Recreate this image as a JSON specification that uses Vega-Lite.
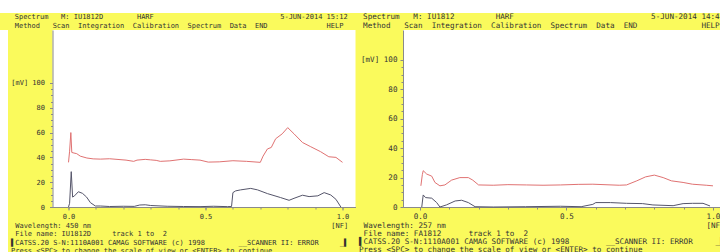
{
  "$schema": "https://vega.github.io/schema/vega-lite/v6.json",
  "background": "#fafa5c",
  "padding": 0,
  "spacing": 0,
  "config": {
    "view": {"fill": "white", "stroke": null},
    "font": "DejaVu Sans Mono",
    "axis": {"labelFont": "DejaVu Sans Mono", "titleFont": "DejaVu Sans Mono", "labelColor": "#333333", "titleColor": "#333333", "domainColor": "#8a8a8a", "tickColor": "#8a8a8a", "grid": false, "titleFontWeight": "normal", "labelOverlap": false, "labelFlush": false}
  },
  "datasets": {
    "blank": [{"part": "screen edge"}],
    "left": [
      {"track": "track 1", "x": 0, "y": 36}, {"track": "track 1", "x": 0.004, "y": 45}, {"track": "track 1", "x": 0.0085, "y": 60}, {"track": "track 1", "x": 0.012, "y": 44}, {"track": "track 1", "x": 0.02, "y": 43.5}, {"track": "track 1", "x": 0.03, "y": 43}, {"track": "track 1", "x": 0.043, "y": 41}, {"track": "track 1", "x": 0.067, "y": 39.5}, {"track": "track 1", "x": 0.09, "y": 38.8}, {"track": "track 1", "x": 0.116, "y": 38.6}, {"track": "track 1", "x": 0.15, "y": 38.9}, {"track": "track 1", "x": 0.177, "y": 38.4}, {"track": "track 1", "x": 0.21, "y": 37.8}, {"track": "track 1", "x": 0.238, "y": 36.8}, {"track": "track 1", "x": 0.25, "y": 37.8}, {"track": "track 1", "x": 0.28, "y": 38.4}, {"track": "track 1", "x": 0.3, "y": 38}, {"track": "track 1", "x": 0.32, "y": 37.6}, {"track": "track 1", "x": 0.335, "y": 36.8}, {"track": "track 1", "x": 0.37, "y": 37.2}, {"track": "track 1", "x": 0.42, "y": 38.6}, {"track": "track 1", "x": 0.45, "y": 38.2}, {"track": "track 1", "x": 0.48, "y": 37.8}, {"track": "track 1", "x": 0.51, "y": 36.2}, {"track": "track 1", "x": 0.55, "y": 36.4}, {"track": "track 1", "x": 0.6, "y": 37.3}, {"track": "track 1", "x": 0.65, "y": 36.8}, {"track": "track 1", "x": 0.7, "y": 36}, {"track": "track 1", "x": 0.71, "y": 41}, {"track": "track 1", "x": 0.726, "y": 46.8}, {"track": "track 1", "x": 0.74, "y": 48}, {"track": "track 1", "x": 0.756, "y": 55}, {"track": "track 1", "x": 0.78, "y": 59}, {"track": "track 1", "x": 0.8, "y": 64}, {"track": "track 1", "x": 0.823, "y": 59}, {"track": "track 1", "x": 0.854, "y": 52}, {"track": "track 1", "x": 0.884, "y": 48.6}, {"track": "track 1", "x": 0.92, "y": 44.6}, {"track": "track 1", "x": 0.95, "y": 40.5}, {"track": "track 1", "x": 0.976, "y": 40}, {"track": "track 1", "x": 1.0, "y": 36},
      {"track": "track 2", "x": 0, "y": 0}, {"track": "track 2", "x": 0.004, "y": 3}, {"track": "track 2", "x": 0.01, "y": 28.5}, {"track": "track 2", "x": 0.015, "y": 8}, {"track": "track 2", "x": 0.022, "y": 9}, {"track": "track 2", "x": 0.036, "y": 12.3}, {"track": "track 2", "x": 0.051, "y": 11}, {"track": "track 2", "x": 0.066, "y": 8}, {"track": "track 2", "x": 0.08, "y": 3.5}, {"track": "track 2", "x": 0.098, "y": 0.8}, {"track": "track 2", "x": 0.116, "y": 0.8}, {"track": "track 2", "x": 0.15, "y": 0.4}, {"track": "track 2", "x": 0.2, "y": 0.6}, {"track": "track 2", "x": 0.24, "y": 0.5}, {"track": "track 2", "x": 0.26, "y": 1.6}, {"track": "track 2", "x": 0.28, "y": 1.8}, {"track": "track 2", "x": 0.3, "y": 1.2}, {"track": "track 2", "x": 0.36, "y": 0.6}, {"track": "track 2", "x": 0.42, "y": 0.4}, {"track": "track 2", "x": 0.48, "y": 0.3}, {"track": "track 2", "x": 0.53, "y": 0.6}, {"track": "track 2", "x": 0.58, "y": 0.3}, {"track": "track 2", "x": 0.595, "y": 0.4}, {"track": "track 2", "x": 0.6, "y": 11.6}, {"track": "track 2", "x": 0.61, "y": 13}, {"track": "track 2", "x": 0.628, "y": 13.8}, {"track": "track 2", "x": 0.665, "y": 15}, {"track": "track 2", "x": 0.69, "y": 13.8}, {"track": "track 2", "x": 0.726, "y": 10.8}, {"track": "track 2", "x": 0.774, "y": 7.6}, {"track": "track 2", "x": 0.805, "y": 5.4}, {"track": "track 2", "x": 0.823, "y": 7}, {"track": "track 2", "x": 0.854, "y": 9.5}, {"track": "track 2", "x": 0.878, "y": 8.4}, {"track": "track 2", "x": 0.91, "y": 9}, {"track": "track 2", "x": 0.933, "y": 11.6}, {"track": "track 2", "x": 0.957, "y": 9.7}, {"track": "track 2", "x": 0.976, "y": 6.2}, {"track": "track 2", "x": 0.994, "y": 0}
    ],
    "right": [
      {"track": "track 1", "x": 0.003, "y": 14.4}, {"track": "track 1", "x": 0.008, "y": 22}, {"track": "track 1", "x": 0.011, "y": 24.7}, {"track": "track 1", "x": 0.023, "y": 22.4}, {"track": "track 1", "x": 0.04, "y": 21}, {"track": "track 1", "x": 0.051, "y": 16.7}, {"track": "track 1", "x": 0.068, "y": 14.4}, {"track": "track 1", "x": 0.085, "y": 15}, {"track": "track 1", "x": 0.108, "y": 18.3}, {"track": "track 1", "x": 0.136, "y": 20}, {"track": "track 1", "x": 0.165, "y": 20}, {"track": "track 1", "x": 0.18, "y": 18.3}, {"track": "track 1", "x": 0.2, "y": 15}, {"track": "track 1", "x": 0.25, "y": 14.8}, {"track": "track 1", "x": 0.3, "y": 15.2}, {"track": "track 1", "x": 0.364, "y": 15}, {"track": "track 1", "x": 0.42, "y": 14.8}, {"track": "track 1", "x": 0.48, "y": 15}, {"track": "track 1", "x": 0.54, "y": 15.4}, {"track": "track 1", "x": 0.59, "y": 15.5}, {"track": "track 1", "x": 0.68, "y": 14.8}, {"track": "track 1", "x": 0.705, "y": 15}, {"track": "track 1", "x": 0.74, "y": 17.8}, {"track": "track 1", "x": 0.77, "y": 20.5}, {"track": "track 1", "x": 0.8, "y": 21.7}, {"track": "track 1", "x": 0.83, "y": 20}, {"track": "track 1", "x": 0.858, "y": 17.8}, {"track": "track 1", "x": 0.898, "y": 16.7}, {"track": "track 1", "x": 0.93, "y": 15.5}, {"track": "track 1", "x": 0.977, "y": 14.8}, {"track": "track 1", "x": 1.0, "y": 14.4},
      {"track": "track 2", "x": 0.006, "y": 0}, {"track": "track 2", "x": 0.011, "y": 8.2}, {"track": "track 2", "x": 0.019, "y": 6.4}, {"track": "track 2", "x": 0.04, "y": 6}, {"track": "track 2", "x": 0.057, "y": 3}, {"track": "track 2", "x": 0.068, "y": 0}, {"track": "track 2", "x": 0.09, "y": 1.4}, {"track": "track 2", "x": 0.12, "y": 4.1}, {"track": "track 2", "x": 0.142, "y": 4.6}, {"track": "track 2", "x": 0.165, "y": 3}, {"track": "track 2", "x": 0.188, "y": 0.2}, {"track": "track 2", "x": 0.25, "y": 0}, {"track": "track 2", "x": 0.36, "y": 0.2}, {"track": "track 2", "x": 0.48, "y": 0.5}, {"track": "track 2", "x": 0.55, "y": 0.2}, {"track": "track 2", "x": 0.59, "y": 1.8}, {"track": "track 2", "x": 0.6, "y": 3}, {"track": "track 2", "x": 0.65, "y": 3}, {"track": "track 2", "x": 0.705, "y": 2.5}, {"track": "track 2", "x": 0.76, "y": 2.3}, {"track": "track 2", "x": 0.795, "y": 1.4}, {"track": "track 2", "x": 0.864, "y": 0.9}, {"track": "track 2", "x": 0.898, "y": 2.3}, {"track": "track 2", "x": 0.93, "y": 2.5}, {"track": "track 2", "x": 0.966, "y": 2.5}, {"track": "track 2", "x": 0.99, "y": 0.7}
    ]
  },
  "vconcat": [
    {"width": 720, "height": 13, "data": {"name": "blank"}, "mark": {"type": "rect", "color": "white"}, "encoding": {}},
    {
      "spacing": 2.5,
      "hconcat": [
        {"width": 8, "height": 239, "data": {"name": "blank"}, "mark": {"type": "rect", "color": "white"}, "encoding": {}},
        {
          "width": 303,
          "height": 177,
          "data": {"name": "left"},
          "title": {
            "text": "\u200b\u00a0Spectrum\u00a0\u00a0\u00a0M:\u00a0IU1812D\u00a0\u00a0\u00a0\u00a0\u00a0\u00a0\u00a0\u00a0HARF\u00a0\u00a0\u00a0\u00a0\u00a0\u00a0\u00a0\u00a0\u00a0\u00a0\u00a0\u00a0\u00a0\u00a0\u00a0\u00a0\u00a0\u00a0\u00a0\u00a0\u00a0\u00a0\u00a0\u00a0\u00a0\u00a0\u00a0\u00a0\u00a0\u00a05-JUN-2014\u00a015:12",
            "subtitle": "\u200b\u00a0Method\u00a0\u00a0\u00a0Scan\u00a0\u00a0Integration\u00a0\u00a0Calibration\u00a0\u00a0Spectrum\u00a0\u00a0Data\u00a0\u00a0END\u00a0\u00a0\u00a0\u00a0\u00a0\u00a0\u00a0\u00a0\u00a0\u00a0\u00a0\u00a0\u00a0\u00a0HELP",
            "anchor": "start", "frame": "group", "dx": -42, "offset": 1.5,
            "font": "DejaVu Sans Mono", "fontSize": 7, "fontWeight": "normal", "color": "#333333",
            "subtitleFont": "DejaVu Sans Mono", "subtitleFontSize": 7, "subtitleColor": "#333333", "subtitlePadding": 1.5
          },
          "layer": [
            {
              "transform": [{"filter": "datum.track == 'track 1'"}],
              "mark": {"type": "line", "color": "#e07272", "strokeWidth": 1},
              "encoding": {
                "x": {"field": "x", "type": "quantitative", "scale": {"domain": [-0.0584, 1.0474], "nice": false, "zero": false},
                  "axis": {"orient": "bottom", "values": [0, 0.5, 1], "format": ".1f", "labelFontSize": 7, "labelPadding": 2, "tickSize": 3,
                    "title": [
                      "\u200b\u00a0Wavelength:\u00a0450\u00a0nm\u00a0\u00a0\u00a0\u00a0\u00a0\u00a0\u00a0\u00a0\u00a0\u00a0\u00a0\u00a0\u00a0\u00a0\u00a0\u00a0\u00a0\u00a0\u00a0\u00a0\u00a0\u00a0\u00a0\u00a0\u00a0\u00a0\u00a0\u00a0\u00a0\u00a0\u00a0\u00a0\u00a0\u00a0\u00a0\u00a0\u00a0\u00a0\u00a0\u00a0\u00a0\u00a0\u00a0\u00a0\u00a0\u00a0\u00a0\u00a0\u00a0\u00a0\u00a0\u00a0\u00a0\u00a0\u00a0\u00a0\u00a0[NF]",
                      "\u200b\u00a0File\u00a0name:\u00a0IU1812D\u00a0\u00a0\u00a0\u00a0\u00a0track\u00a01\u00a0to\u00a0\u00a02",
                      "\u258cCATSS.20\u00a0S-N:1110A001\u00a0CAMAG\u00a0SOFTWARE\u00a0(c)\u00a01998\u00a0\u00a0\u00a0\u00a0\u00a0\u00a0\u00a0\u00a0__SCANNER\u00a0II:\u00a0ERROR\u00a0\u00a0\u00a0\u00a0\u00a0_\u258c",
                      "Press\u00a0<SPC>\u00a0to\u00a0change\u00a0the\u00a0scale\u00a0of\u00a0view\u00a0or\u00a0<ENTER>\u00a0to\u00a0continue"
                    ],
                    "titleFontSize": 7, "titleAlign": "left", "titleAnchor": "start", "titleX": -42, "titleY": 14.5, "titleBaseline": "top", "titleLineHeight": 8.3}},
                "y": {"field": "y", "type": "quantitative", "scale": {"domain": [0, 142.7], "nice": false, "zero": false},
                  "axis": {"orient": "left", "values": [0, 20, 40, 60, 80, 100], "labelExpr": "datum.value == 100 ? '[mV]\u00a0100' : datum.label", "labelFontSize": 7, "tickSize": 3, "labelPadding": 5, "title": null}}
              }
            },
            {
              "transform": [{"filter": "datum.track == 'track 2'"}],
              "mark": {"type": "line", "color": "#55556a", "strokeWidth": 1},
              "encoding": {
                "x": {"field": "x", "type": "quantitative",
                  "axis": {"orient": "bottom", "values": [0, 0.1, 0.2, 0.3, 0.4, 0.5, 0.6, 0.7, 0.8, 0.9, 1.0], "labels": false, "domain": false, "tickSize": 2, "title": null}},
                "y": {"field": "y", "type": "quantitative",
                  "axis": {"orient": "left", "values": [0, 5, 10, 15, 20, 25, 30, 35, 40, 45, 50, 55, 60, 65, 70, 75, 80, 85, 90, 95, 100], "labels": false, "domain": false, "tickSize": 2, "title": null}}
              }
            }
          ],
          "resolve": {"axis": {"x": "independent", "y": "independent"}}
        },
        {
          "width": 317,
          "height": 177,
          "data": {"name": "right"},
          "title": {
            "text": "\u200b\u00a0Spectrum\u00a0\u00a0\u00a0M:\u00a0IU1812\u00a0\u00a0\u00a0\u00a0\u00a0\u00a0\u00a0\u00a0\u00a0HARF\u00a0\u00a0\u00a0\u00a0\u00a0\u00a0\u00a0\u00a0\u00a0\u00a0\u00a0\u00a0\u00a0\u00a0\u00a0\u00a0\u00a0\u00a0\u00a0\u00a0\u00a0\u00a0\u00a0\u00a0\u00a0\u00a0\u00a0\u00a0\u00a0\u00a05-JUN-2014\u00a014:48",
            "subtitle": "\u200b\u00a0Method\u00a0\u00a0\u00a0Scan\u00a0\u00a0Integration\u00a0\u00a0Calibration\u00a0\u00a0Spectrum\u00a0\u00a0Data\u00a0\u00a0END\u00a0\u00a0\u00a0\u00a0\u00a0\u00a0\u00a0\u00a0\u00a0\u00a0\u00a0\u00a0\u00a0\u00a0HELP",
            "anchor": "start", "frame": "group", "dx": -44.5, "offset": 0.8,
            "font": "DejaVu Sans Mono", "fontSize": 7.6, "fontWeight": "normal", "color": "#333333",
            "subtitleFont": "DejaVu Sans Mono", "subtitleFontSize": 7.6, "subtitleColor": "#333333", "subtitlePadding": 1
          },
          "layer": [
            {
              "transform": [{"filter": "datum.track == 'track 1'"}],
              "mark": {"type": "line", "color": "#e07272", "strokeWidth": 1},
              "encoding": {
                "x": {"field": "x", "type": "quantitative", "scale": {"domain": [-0.058, 1.024], "nice": false, "zero": false},
                  "axis": {"orient": "bottom", "values": [0, 0.5, 1], "format": ".1f", "labelFontSize": 7.6, "labelPadding": 2, "tickSize": 3,
                    "title": [
                      "\u200b\u00a0Wavelength:\u00a0257\u00a0nm\u00a0\u00a0\u00a0\u00a0\u00a0\u00a0\u00a0\u00a0\u00a0\u00a0\u00a0\u00a0\u00a0\u00a0\u00a0\u00a0\u00a0\u00a0\u00a0\u00a0\u00a0\u00a0\u00a0\u00a0\u00a0\u00a0\u00a0\u00a0\u00a0\u00a0\u00a0\u00a0\u00a0\u00a0\u00a0\u00a0\u00a0\u00a0\u00a0\u00a0\u00a0\u00a0\u00a0\u00a0\u00a0\u00a0\u00a0\u00a0\u00a0\u00a0\u00a0\u00a0\u00a0\u00a0\u00a0\u00a0\u00a0[NF]",
                      "\u200b\u00a0File\u00a0name:\u00a0FA1812\u00a0\u00a0\u00a0\u00a0\u00a0\u00a0track\u00a01\u00a0to\u00a0\u00a02",
                      "\u258cCATSS.20\u00a0S-N:1110A001\u00a0CAMAG\u00a0SOFTWARE\u00a0(c)\u00a01998\u00a0\u00a0\u00a0\u00a0\u00a0\u00a0\u00a0\u00a0__SCANNER\u00a0II:\u00a0ERROR\u00a0\u00a0\u00a0\u00a0\u00a0_\u258c",
                      "Press\u00a0<SPC>\u00a0to\u00a0change\u00a0the\u00a0scale\u00a0of\u00a0view\u00a0or\u00a0<ENTER>\u00a0to\u00a0continue"
                    ],
                    "titleFontSize": 7.6, "titleAlign": "left", "titleAnchor": "start", "titleX": -44.5, "titleY": 14, "titleBaseline": "top", "titleLineHeight": 8}},
                "y": {"field": "y", "type": "quantitative", "scale": {"domain": [0, 120.4], "nice": false, "zero": false},
                  "axis": {"orient": "left", "values": [0, 20, 40, 60, 80, 100], "labelExpr": "datum.value == 100 ? '[mV]\u00a0100' : datum.label", "labelFontSize": 7.6, "tickSize": 3, "labelPadding": 3, "title": null}}
              }
            },
            {
              "transform": [{"filter": "datum.track == 'track 2'"}],
              "mark": {"type": "line", "color": "#55556a", "strokeWidth": 1},
              "encoding": {
                "x": {"field": "x", "type": "quantitative",
                  "axis": {"orient": "bottom", "values": [0, 0.1, 0.2, 0.3, 0.4, 0.5, 0.6, 0.7, 0.8, 0.9, 1.0], "labels": false, "domain": false, "tickSize": 2, "title": null}},
                "y": {"field": "y", "type": "quantitative",
                  "axis": {"orient": "left", "values": [0, 5, 10, 15, 20, 25, 30, 35, 40, 45, 50, 55, 60, 65, 70, 75, 80, 85, 90, 95, 100], "labels": false, "domain": false, "tickSize": 2, "title": null}}
              }
            }
          ],
          "resolve": {"axis": {"x": "independent", "y": "independent"}}
        }
      ]
    }
  ]
}
